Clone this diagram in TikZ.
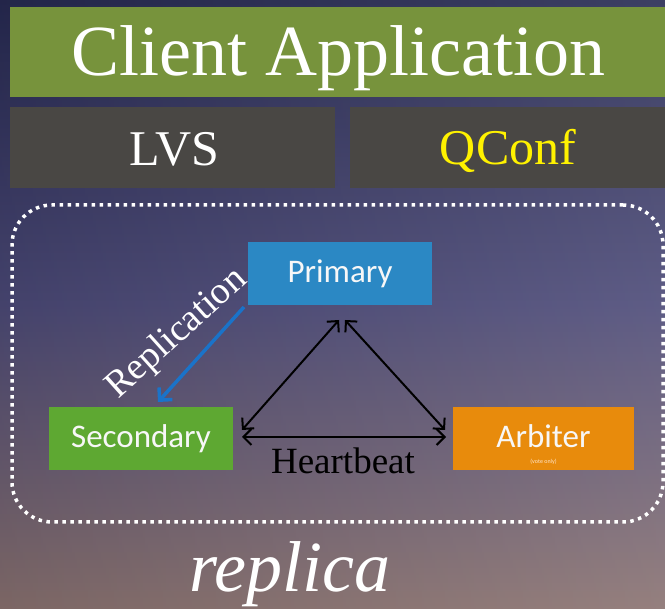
\documentclass[tikz,border=0pt]{standalone}
\usepackage{fontspec}
\setmainfont{Liberation Serif}
\newfontfamily\boxfont{Carlito}
\usetikzlibrary{arrows.meta}
\definecolor{bgtop}{HTML}{272A52}
\definecolor{bgmid}{HTML}{4C4A78}
\definecolor{bgbot}{HTML}{8A7270}
\definecolor{clientgreen}{HTML}{77933C}
\definecolor{darkbox}{HTML}{494744}
\definecolor{primblue}{HTML}{2B88C4}
\definecolor{secgreen}{HTML}{5EA832}
\definecolor{arborange}{HTML}{E88B0C}
\definecolor{repblue}{HTML}{1A73C9}
\tikzset{
  topbar/.style={fill=clientgreen, inner sep=0pt},
  graybox/.style={fill=darkbox, inner sep=0pt},
  bigtext/.style={inner sep=0pt, font=\fontsize{72}{80}\selectfont},
  midtext/.style={inner sep=0pt, font=\fontsize{50}{56}\selectfont},
  rolebox/.style={inner sep=0pt, text=white!94!gray, font=\boxfont\fontsize{33}{36}\selectfont, minimum width=184pt, minimum height=63pt},
  hb/.style={{Straight Barb[length=8pt,width=16pt]}-{Straight Barb[length=8pt,width=16pt]}, line width=2pt, black},
  rep/.style={-{Straight Barb[length=9pt,width=18pt]}, line width=3.5pt, repblue},
  dotbox/.style={draw=white, line width=3.5pt, dash pattern=on 3.5pt off 4.5pt, rounded corners=40pt, inner sep=0pt}
}
\begin{document}
\begin{tikzpicture}[x=1pt,y=-1pt]
\useasboundingbox (0,0) rectangle (665,609);
\shade[top color=bgtop, bottom color=bgbot, middle color=bgmid] (0,0) rectangle (665,609);
\shade[left color=black, right color=white, opacity=0.10] (0,0) rectangle (665,609);
% top bars
\node[topbar, minimum width=655pt, minimum height=90pt] (client) at (337.5,52) {};
\node[bigtext, text=white] (clienttxt) at (338,58) {Client Application};
\node[graybox, minimum width=325pt, minimum height=81pt] (lvs) at (172.5,147.5) {};
\node[midtext, text=white] (lvstxt) at (174,149) {LVS};
\node[graybox, minimum width=315pt, minimum height=81pt] (qconf) at (507.5,147.5) {};
\node[midtext, text=yellow] (qconftxt) at (508,151) {QConf};
% replica set boundary
\node[dotbox, minimum width=651pt, minimum height=317pt] (rs) at (337.5,363.5) {};
% role boxes
\node[rolebox, fill=primblue] (pri) at (340,273.5) {Primary};
\node[rolebox, fill=secgreen] (sec) at (141,438.5) {Secondary};
\node[rolebox, fill=arborange, minimum width=181pt] (arb) at (543.5,438.5) {};
\node[text=white!94!gray, font=\boxfont\fontsize{33}{36}\selectfont, inner sep=0pt] (arbtxt) at (543.5,436) {Arbiter};
\node[text=white!80!orange, font=\boxfont\fontsize{6}{7}\selectfont, inner sep=0pt] (vote) at (543.5,462) {(vote only)};
% heartbeat connectors
\coordinate (apexL) at (339,320);
\coordinate (apexR) at (345,320);
\coordinate (secR) at (242,430);
\coordinate (arbL) at (445,430);
\coordinate (secH) at (242,437);
\coordinate (arbH) at (446,437);
\draw[hb] (apexL) -- (secR);
\draw[hb] (apexR) -- (arbL);
\draw[hb] (secH) -- (arbH);
\node[text=black, font=\fontsize{37}{40}\selectfont, inner sep=0pt] (hbtxt) at (343,461) {Heartbeat};
% replication
\coordinate (repS) at (244,307);
\coordinate (repE) at (158,402);
\draw[rep] (repS) -- (repE);
\node[text=white, font=\fontsize{38}{40}\selectfont, inner sep=0pt, rotate=42] (reptxt) at (177,334) {Replication};
% caption
\node[inner sep=0pt, text=white, font=\itshape\fontsize{72}{80}\selectfont] (cap) at (290,574) {replica};
\end{tikzpicture}
\end{document}
